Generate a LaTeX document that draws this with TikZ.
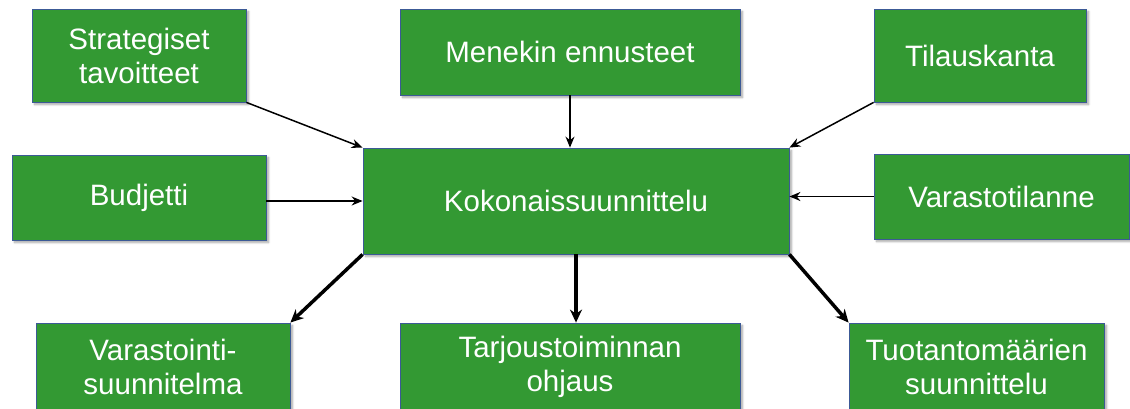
\documentclass[tikz,border=0pt]{standalone}
\usepackage{fontspec}
\setmainfont{Liberation Sans}
\usetikzlibrary{arrows.meta,shadows.blur}
\definecolor{boxgreen}{RGB}{51,153,51}
\definecolor{boxline}{RGB}{60,90,150}
\tikzset{
  gbox/.style={draw=boxline, line width=0.8pt, fill=boxgreen, text=white,
    align=center, inner sep=0pt, anchor=center,
    font=\fontsize{29.5}{34}\selectfont,
    blur shadow={shadow xshift=2.5pt, shadow yshift=-2.5pt, shadow blur steps=6, shadow opacity=35}},
  thin arrow/.style={line width=1.5pt, -{Stealth[length=11pt,width=9pt]}},
  thick arrow/.style={line width=3.5pt, -{Stealth[length=13pt,width=12pt]}}
}
\begin{document}
\begin{tikzpicture}[x=1pt,y=-1pt]
\useasboundingbox (0,0) rectangle (1130,408);
\node[gbox, minimum width=214pt, minimum height=93pt] (strat) at (139,55.5) {Strategiset\\tavoitteet};
\node[gbox, minimum width=340pt, minimum height=86pt] (menekin) at (570,52) {Menekin ennusteet};
\node[gbox, minimum width=212pt, minimum height=93pt] (tilaus) at (980,55.5) {Tilauskanta};
\node[gbox, minimum width=254pt, minimum height=85pt] (budjetti) at (139,197.5) {Budjetti};
\node[gbox, minimum width=255pt, minimum height=85pt] (varasto) at (1001.5,196.5) {Varastotilanne};
\node[gbox, minimum width=426pt, minimum height=106pt] (koko) at (576,201) {Kokonaissuunnittelu};
\node[gbox, minimum width=254pt, minimum height=88pt] (vsuunn) at (163,367) {Varastointi-\\suunnitelma};
\node[gbox, minimum width=340pt, minimum height=88pt] (tarjous) at (570,367) {Tarjoustoiminnan\\ohjaus};
\node[gbox, minimum width=255pt, minimum height=88pt] (tuot) at (976.5,367) {Tuotantomäärien\\suunnittelu};

\draw[thin arrow] (strat.south east) -- (koko.north west);
\draw[thin arrow] (menekin.south) -- (menekin.south |- koko.north);
\draw[thin arrow] (tilaus.south west) -- (koko.north east);
\draw[thin arrow] (koko.west -| budjetti.east) -- (koko.west);
\draw[thin arrow] (varasto.west) -- (varasto.west -| koko.east);

\draw[thick arrow] (koko.south west) -- (vsuunn.north east);
\draw[thick arrow] (koko.south) -- (koko.south |- tarjous.north);
\draw[thick arrow] (koko.south east) -- (tuot.north west);
\end{tikzpicture}
\end{document}
